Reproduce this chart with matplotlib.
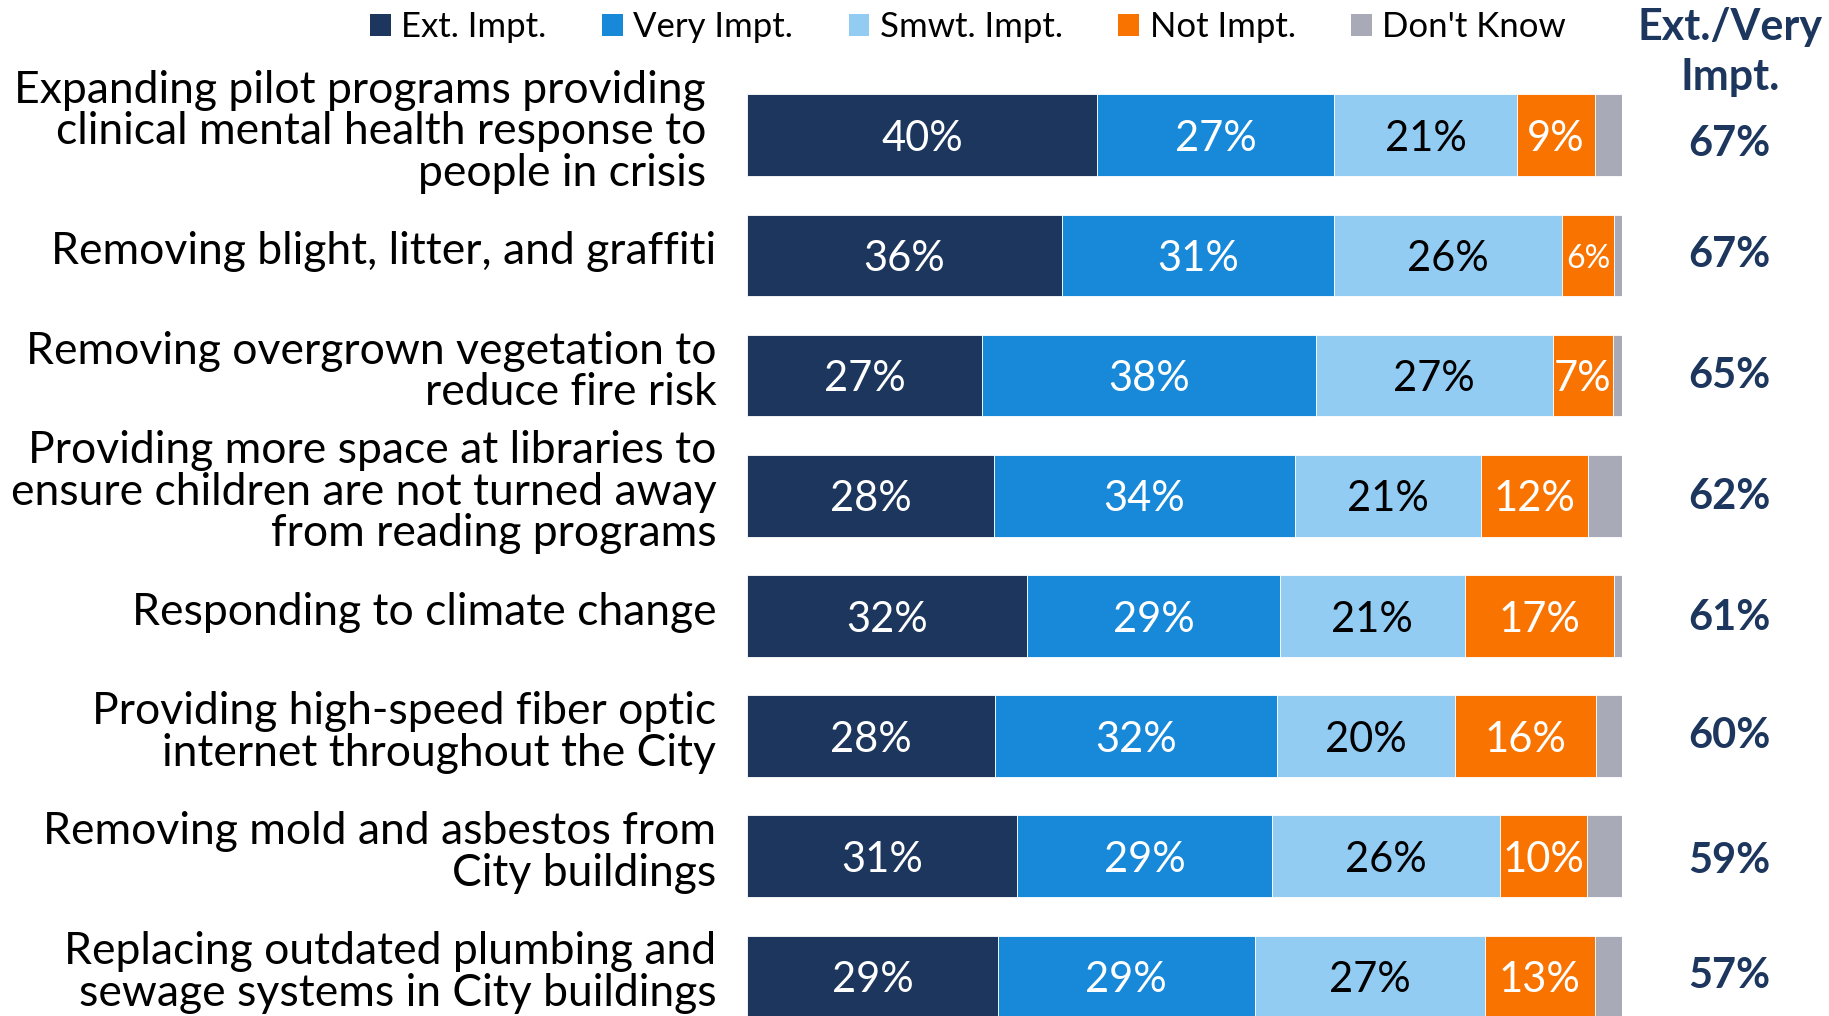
import matplotlib
matplotlib.use("Agg")
import matplotlib.pyplot as plt
from matplotlib.patches import Patch

plt.rcParams['font.family'] = ['Lato', 'DejaVu Sans']

# Survey items (top to bottom)
items = [
    "Expanding pilot programs providing\nclinical mental health response to\npeople in crisis",
    "Removing blight, litter, and graffiti",
    "Removing overgrown vegetation to\nreduce fire risk",
    "Providing more space at libraries to\nensure children are not turned away\nfrom reading programs",
    "Responding to climate change",
    "Providing high-speed fiber optic\ninternet throughout the City",
    "Removing mold and asbestos from\nCity buildings",
    "Replacing outdated plumbing and\nsewage systems in City buildings",
]

# segment shares
ext_impt = [40.0, 36.0, 26.9, 28.2, 32.0, 28.3, 30.9, 28.7]
very_impt = [27.1, 31.1, 38.1, 34.4, 28.9, 32.3, 29.1, 29.3]
smwt_impt = [20.9, 26.0, 27.1, 21.3, 21.1, 20.3, 26.0, 26.3]
not_impt = [8.9, 6.0, 6.9, 12.2, 17.1, 16.1, 10.0, 12.6]
dont_know = [3.1, 0.9, 1.0, 3.9, 0.9, 3.0, 4.0, 3.1]

# printed labels
ext_lbl = [40, 36, 27, 28, 32, 28, 31, 29]
very_lbl = [27, 31, 38, 34, 29, 32, 29, 29]
smwt_lbl = [21, 26, 27, 21, 21, 20, 26, 27]
not_lbl = [9, 6, 7, 12, 17, 16, 10, 13]
ext_very = [67, 67, 65, 62, 61, 60, 59, 57]

series = ["Ext. Impt.", "Very Impt.", "Smwt. Impt.", "Not Impt.", "Don't Know"]
colors = ["#1C365E", "#1888D8", "#93CCF3", "#F97300", "#A9AAB8"]
NAVY = "#1C365E"

W, H = 1829, 1016
fig = plt.figure(figsize=(W / 100, H / 100), dpi=100)

# axes placed so bars land where the reference has them
x0, x1 = 747, 1622
top_px, pitch = 75.2, 120.16
ax = fig.add_axes([x0 / W, 0, (x1 - x0) / W, 1 - top_px / H])
ax.set_xlim(0, 100)
ax.set_ylim(-0.5 + (H - top_px) / pitch, -0.5)
ax.axis("off")

rows = list(range(len(items)))
data = [ext_impt, very_impt, smwt_impt, not_impt, dont_know]
labels = [ext_lbl, very_lbl, smwt_lbl, not_lbl, None]
txt_colors = ["white", "white", "black", "white", None]

left = [0.0] * len(items)
for vals, lbls, col, tc in zip(data, labels, colors, txt_colors):
    ax.barh(rows, vals, left=left, height=0.68, color=col,
            edgecolor="white", linewidth=0.6)
    if lbls is not None:
        for i, (v, l) in enumerate(zip(vals, lbls)):
            size = 23 if l == 6 else 30
            ax.text(left[i] + v / 2, i + 0.03, f"{l}%", ha="center",
                    va="center", color=tc, fontsize=size)
    left = [a + b for a, b in zip(left, vals)]

# category labels on the left
for i, lab in enumerate(items):
    xr = -4.7 if i == 0 else -3.5
    ax.text(xr, i - 0.03, lab, ha="right", va="center", fontsize=32,
            linespacing=1.02, color="black")

# Ext./Very column
col_dy = [0.07, 0.0, 0.0, 0.01, 0.02, 0.0, 0.04, 0.0]
for i, v in enumerate(ext_very):
    ax.text(112.3, i + col_dy[i], f"{v}%", ha="center", va="center",
            fontsize=30, fontweight="bold", color=NAVY)
fig.text(1730 / W, 1 - 52 / H, "Ext./Very\nImpt.", ha="center", va="center",
         fontsize=31, fontweight="bold", color=NAVY, linespacing=1.3)

handles = [Patch(facecolor=c, edgecolor="none") for c in colors]
fig.legend(handles, series, loc="center", bbox_to_anchor=(968 / W, 1 - 27 / H),
           ncol=5, frameon=False, fontsize=25, handlelength=0.6,
           handleheight=0.6, handletextpad=0.3, columnspacing=1.6)

fig.savefig("out.png", dpi=100)
